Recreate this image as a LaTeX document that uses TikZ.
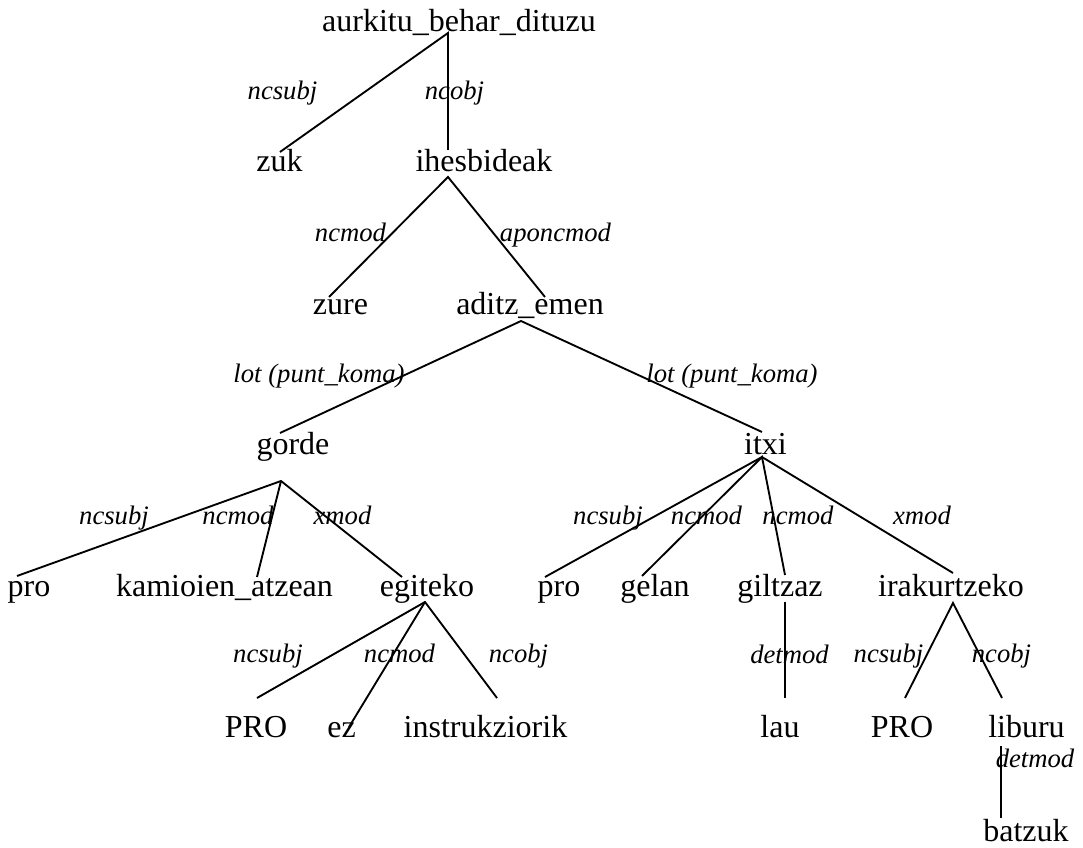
\documentclass[tikz,border=0pt]{standalone}
\usepackage{fontspec}
\setmainfont{Liberation Serif}
\begin{document}
\begin{tikzpicture}[x=0.75pt,y=-0.75pt,
  word/.style={anchor=base,inner sep=0pt,font=\fontsize{24}{28}\selectfont},
  rel/.style={anchor=base,inner sep=0pt,font=\fontsize{20}{24}\selectfont\itshape},
  edge/.style={line width=1.4pt,line cap=butt}]
\useasboundingbox (0,0) rectangle (1083,848);

% words of the dependency tree
\node[word] (aurkitu) at (459,32)   {aurkitu\_behar\_dituzu};
\node[word] (zuk)     at (279.5,172) {zuk};
\node[word] (ihes)    at (484,172)  {ihesbideak};
\node[word] (zure)    at (340.5,315) {zure};
\node[word] (aditz)   at (530,315)  {aditz\_emen};
\node[word] (gorde)   at (293,455)  {gorde};
\node[word] (itxi)    at (765.5,455) {itxi};
\node[word] (proA)    at (29,597)   {pro};
\node[word] (kam)     at (224.5,597) {kamioien\_atzean};
\node[word] (egit)    at (427,597)  {egiteko};
\node[word] (proB)    at (559,597)  {pro};
\node[word] (gelan)   at (655,597)  {gelan};
\node[word] (gilt)    at (780,597)  {giltzaz};
\node[word] (irak)    at (951,597)  {irakurtzeko};
\node[word] (PROA)    at (256,738)  {PRO};
\node[word] (ez)      at (341.5,738) {ez};
\node[word] (instr)   at (485.5,738) {instrukziorik};
\node[word] (lau)     at (780,738)  {lau};
\node[word] (PROB)    at (902,738)  {PRO};
\node[word] (lib)     at (1026.5,738) {liburu};
\node[word] (batz)    at (1026,841) {batzuk};

% attachment points of the branches
\coordinate (aurkitu-dn) at (448,33);
\coordinate (zuk-up)     at (280,152);
\coordinate (ihes-up)    at (448,150);
\coordinate (ihes-dn)    at (448,177);
\coordinate (zure-up)    at (329,297);
\coordinate (aditz-up)   at (545,297);
\coordinate (aditz-dn)   at (521,321);
\coordinate (gorde-up)   at (280,433);
\coordinate (itxi-up)    at (762,432);
\coordinate (gorde-dn)   at (281,481);
\coordinate (proA-up)    at (17,576);
\coordinate (kam-up)     at (257,577);
\coordinate (egit-up)    at (402,577);
\coordinate (itxi-dn)    at (762,457);
\coordinate (proB-up)    at (545,577);
\coordinate (gelan-up)   at (642,576);
\coordinate (gilt-up)    at (785,575);
\coordinate (irak-up)    at (953,573);
\coordinate (egit-dn)    at (425,602);
\coordinate (PROA-up)    at (257,698);
\coordinate (ez-up)      at (349,727);
\coordinate (instr-up)   at (497,698);
\coordinate (gilt-dn)    at (785,602);
\coordinate (lau-up)     at (785,698);
\coordinate (irak-dn)    at (953,603);
\coordinate (PROB-up)    at (905,698);
\coordinate (lib-up)     at (1002,698);
\coordinate (lib-dn)     at (1001,746);
\coordinate (batz-up)    at (1001,818);

% branches
\draw[edge] (zuk-up) -- (aurkitu-dn) -- (ihes-up);
\draw[edge] (zure-up) -- (ihes-dn) -- (aditz-up);
\draw[edge] (gorde-up) -- (aditz-dn) -- (itxi-up);
\draw[edge] (proA-up) -- (gorde-dn) -- (egit-up);
\draw[edge] (gorde-dn) -- (kam-up);
\draw[edge] (proB-up) -- (itxi-dn) -- (irak-up);
\draw[edge] (gelan-up) -- (itxi-dn) -- (gilt-up);
\draw[edge] (PROA-up) -- (egit-dn) -- (instr-up);
\draw[edge] (egit-dn) -- (ez-up);
\draw[edge] (gilt-dn) -- (lau-up);
\draw[edge] (PROB-up) -- (irak-dn) -- (lib-up);
\draw[edge] (lib-dn) -- (batz-up);

% relation labels
\node[rel] (r1) at (282.5,100) {ncsubj};
\node[rel] (r2) at (454.5,100) {ncobj};
\node[rel] (r3) at (350.5,242) {ncmod};
\node[rel] (r4) at (555.5,242) {aponcmod};
\node[rel] (r5) at (319,383)   {lot (punt\_koma)};
\node[rel] (r6) at (732,383)   {lot (punt\_koma)};
\node[rel] (r7) at (114,525)   {ncsubj};
\node[rel] (r8) at (238,525)   {ncmod};
\node[rel] (r9) at (342.5,525) {xmod};
\node[rel] (r10) at (608,525)  {ncsubj};
\node[rel] (r11) at (706.5,525) {ncmod};
\node[rel] (r12) at (798,525)  {ncmod};
\node[rel] (r13) at (922,525)  {xmod};
\node[rel] (r14) at (268,663)  {ncsubj};
\node[rel] (r15) at (399.5,663) {ncmod};
\node[rel] (r16) at (518.5,663) {ncobj};
\node[rel] (r17) at (789.5,664) {detmod};
\node[rel] (r18) at (888.5,663) {ncsubj};
\node[rel] (r19) at (1001.5,663) {ncobj};
\node[rel] (r20) at (1035,768) {detmod};
\end{tikzpicture}
\end{document}
